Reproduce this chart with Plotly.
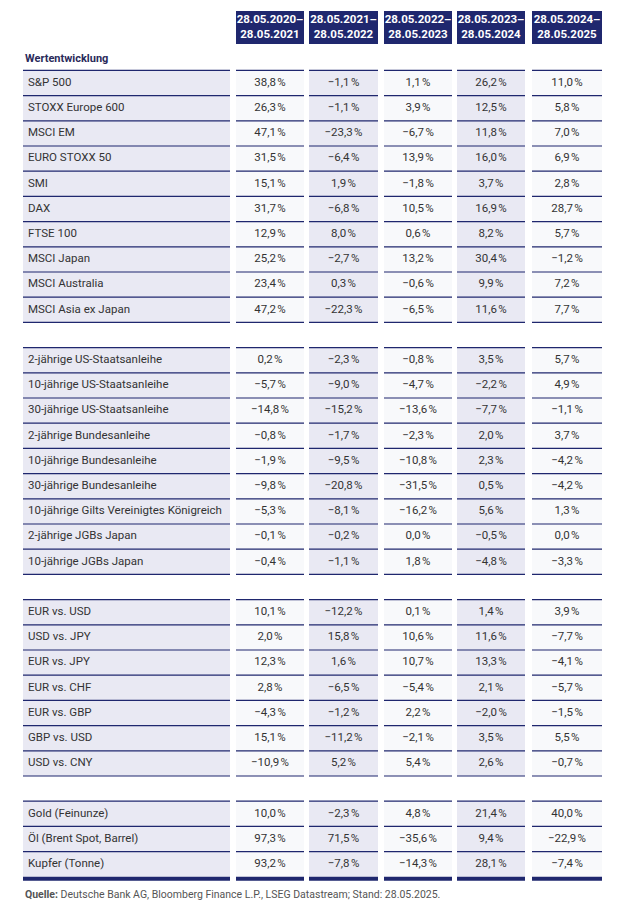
import plotly.graph_objects as go

periods = ["28.05.2020–<br>28.05.2021", "28.05.2021–<br>28.05.2022", "28.05.2022–<br>28.05.2023",
           "28.05.2023–<br>28.05.2024", "28.05.2024–<br>28.05.2025"]

# None = leere Trennzeile
labels = ["S&P 500", "STOXX Europe 600", "MSCI EM", "EURO STOXX 50", "SMI", "DAX", "FTSE 100",
          "MSCI Japan", "MSCI Australia", "MSCI Asia ex Japan", None,
          "2-jährige US-Staatsanleihe", "10-jährige US-Staatsanleihe", "30-jährige US-Staatsanleihe",
          "2-jährige Bundesanleihe", "10-jährige Bundesanleihe", "30-jährige Bundesanleihe",
          "10-jährige Gilts Vereinigtes Königreich", "2-jährige JGBs Japan", "10-jährige JGBs Japan", None,
          "EUR vs. USD", "USD vs. JPY", "EUR vs. JPY", "EUR vs. CHF", "EUR vs. GBP", "GBP vs. USD",
          "USD vs. CNY", None,
          "Gold (Feinunze)", "Öl (Brent Spot, Barrel)", "Kupfer (Tonne)"]

values = [
    [38.8, -1.1, 1.1, 26.2, 11.0],
    [26.3, -1.1, 3.9, 12.5, 5.8],
    [47.1, -23.3, -6.7, 11.8, 7.0],
    [31.5, -6.4, 13.9, 16.0, 6.9],
    [15.1, 1.9, -1.8, 3.7, 2.8],
    [31.7, -6.8, 10.5, 16.9, 28.7],
    [12.9, 8.0, 0.6, 8.2, 5.7],
    [25.2, -2.7, 13.2, 30.4, -1.2],
    [23.4, 0.3, -0.6, 9.9, 7.2],
    [47.2, -22.3, -6.5, 11.6, 7.7],
    None,
    [0.2, -2.3, -0.8, 3.5, 5.7],
    [-5.7, -9.0, -4.7, -2.2, 4.9],
    [-14.8, -15.2, -13.6, -7.7, -1.1],
    [-0.8, -1.7, -2.3, 2.0, 3.7],
    [-1.9, -9.5, -10.8, 2.3, -4.2],
    [-9.8, -20.8, -31.5, 0.5, -4.2],
    [-5.3, -8.1, -16.2, 5.6, 1.3],
    [-0.1, -0.2, 0.0, -0.5, 0.0],
    [-0.4, -1.1, 1.8, -4.8, -3.3],
    None,
    [10.1, -12.2, 0.1, 1.4, 3.9],
    [2.0, 15.8, 10.6, 11.6, -7.7],
    [12.3, 1.6, 10.7, 13.3, -4.1],
    [2.8, -6.5, -5.4, 2.1, -5.7],
    [-4.3, -1.2, 2.2, -2.0, -1.5],
    [15.1, -11.2, -2.1, 3.5, 5.5],
    [-10.9, 5.2, 5.4, 2.6, -0.7],
    None,
    [10.0, -2.3, 4.8, 21.4, 40.0],
    [97.3, 71.5, -35.6, 9.4, -22.9],
    [93.2, -7.8, -14.3, 28.1, -7.4],
]

NAVY = "#1f276e"
LAV = "#e9e9f3"
WHITE = "#f8f9fb"

# Spaltengrenzen (Pixel)
cols = [(22, 229), (235, 303), (308, 377), (383, 451), (456, 524), (531, 601)]
fills = [LAV, WHITE, LAV, WHITE, LAV, WHITE]
y0, rh = 82, 25.2


def fmt(v):
    s = f"{abs(v):.1f}".replace(".", ",") + "\u202f%"
    return ("\u2212" + s) if v < 0 else s


fig = go.Figure()
shapes = []

# Kopfzeile
for (a, b) in cols[1:]:
    shapes.append(dict(type="rect", x0=a, x1=b, y0=10, y1=43, fillcolor=NAVY, line_width=0, layer="below"))
fig.add_trace(go.Scatter(x=[(a + b) / 2 for a, b in cols[1:]], y=[27] * 5, text=[f"<b>{p}</b>" for p in periods],
                         mode="text", textfont=dict(color="white", size=11.5, family="Roboto")))

lab_x, lab_y, lab_t = [], [], []
val_x, val_y, val_t = [], [], []
for i, lab in enumerate(labels):
    if lab is None:
        continue
    yc = y0 + i * rh
    top, bot = yc - rh / 2, yc + rh / 2
    last = i == len(labels) - 1 or labels[i + 1] is None
    for (a, b), f in zip(cols, fills):
        shapes.append(dict(type="rect", x0=a, x1=b, y0=top, y1=bot, fillcolor=f, line_width=0, layer="below"))
        shapes.append(dict(type="line", x0=a, x1=b, y0=top, y1=top, line=dict(color=NAVY, width=1.2)))
        if last:
            if i == len(labels) - 1:
                shapes.append(dict(type="rect", x0=a, x1=b, y0=bot, y1=bot + 4, fillcolor=NAVY, line_width=0))
            else:
                shapes.append(dict(type="line", x0=a, x1=b, y0=bot, y1=bot, line=dict(color=NAVY, width=1.2)))
    lab_x.append(27)
    lab_y.append(yc)
    lab_t.append(lab)
    for (a, b), v in zip(cols[1:], values[i]):
        val_x.append((a + b) / 2)
        val_y.append(yc)
        val_t.append(fmt(v))

fig.add_trace(go.Scatter(x=lab_x, y=lab_y, text=lab_t, mode="text", textposition="middle right",
                         textfont=dict(color="#333333", size=11.5, family="Roboto")))
fig.add_trace(go.Scatter(x=val_x, y=val_y, text=val_t, mode="text",
                         textfont=dict(color="#333333", size=11.5, family="Roboto")))

fig.add_annotation(x=22, y=57, text="<b>Wertentwicklung</b>", showarrow=False, xanchor="left",
                   font=dict(color="#2a2a5a", size=11, family="Roboto"))
fig.add_annotation(x=22, y=893, text="<b>Quelle:</b> Deutsche Bank AG, Bloomberg Finance L.P., LSEG Datastream; Stand: 28.05.2025.",
                   showarrow=False, xanchor="left", font=dict(color="#555555", size=10.5, family="Roboto"))

# Seitenrand des Browsers (~7 px) ausgleichen
fig.update_layout(width=624, height=919, margin=dict(l=0, r=0, t=0, b=0), showlegend=False,
                  plot_bgcolor="white", paper_bgcolor="white", shapes=shapes,
                  xaxis=dict(range=[7, 631], visible=False, fixedrange=True),
                  yaxis=dict(range=[926, 7], visible=False, fixedrange=True))
fig.write_html("out.html")
